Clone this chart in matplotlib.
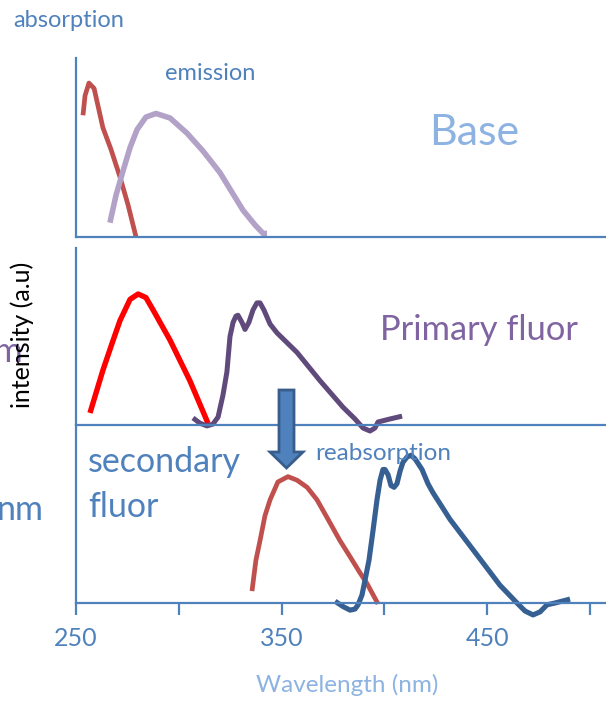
import numpy as np
import matplotlib
matplotlib.use("Agg")
import matplotlib.pyplot as plt
import matplotlib.patches as mpatches

plt.rcParams['font.family'] = ['Lato', 'DejaVu Sans']

# --- data (wavelength nm, relative intensity; 0 = panel baseline, 1 = panel top)
base_abs_x = [253.4, 254.4, 256.3, 258.8, 263.1, 267.0, 271.4, 275.3, 279.2]
base_abs_y = [0.68, 0.79, 0.86, 0.83, 0.61, 0.49, 0.335, 0.18, 0.0]

base_em_x = [266.5, 269.5, 272.9, 276.3, 279.7, 284.0, 288.9, 295.7, 304.0,
             311.8, 320.0, 331.2, 337.1, 341.0, 342.9]
base_em_y = [0.08, 0.235, 0.37, 0.50, 0.60, 0.67, 0.69, 0.665, 0.58,
             0.48, 0.36, 0.15, 0.067, 0.02, 0.02]

prim_abs_x = [256.8, 263.1, 267.5, 271.4, 276.3, 280.2, 284.0, 287.5, 295.7, 305.4, 314.2]
prim_abs_y = [0.068, 0.31, 0.46, 0.59, 0.71, 0.74, 0.72, 0.65, 0.48, 0.25, 0.01]

prim_em_x = [306.9, 310.3, 313.7, 316.6, 319.1, 321.5, 323.4, 324.9, 326.4, 327.8,
             328.8, 330.7, 332.2, 334.1, 336.1, 338.0, 339.5, 341.4, 344.4, 347.8,
             357.5, 368.7, 379.9, 385.7, 389.6, 393.0, 395.4, 396.9, 402.7, 408.6]
prim_em_y = [0.04, 0.01, -0.005, 0.005, 0.045, 0.17, 0.30, 0.50, 0.58, 0.615,
             0.62, 0.58, 0.54, 0.58, 0.65, 0.69, 0.69, 0.65, 0.57, 0.52,
             0.41, 0.25, 0.10, 0.034, -0.017, -0.034, -0.017, 0.017, 0.034, 0.05]

sec_abs_x = [335.6, 337.5, 339.5, 341.9, 344.4, 348.2, 353.1, 357.5, 362.4, 367.2,
             372.1, 378.4, 383.3, 388.1, 391.5, 396.9]
sec_abs_y = [0.067, 0.24, 0.35, 0.49, 0.58, 0.68, 0.71, 0.69, 0.65, 0.58,
             0.48, 0.35, 0.26, 0.17, 0.11, -0.005]

sec_em_x = [376.0, 379.9, 383.3, 385.7, 387.2, 389.1, 390.6, 392.5, 394.5, 396.4,
            397.9, 399.3, 400.3, 401.8, 403.2, 404.7, 406.1, 407.6, 409.0, 411.0,
            412.9, 414.9, 418.3, 421.2, 423.6, 431.9, 448.0, 456.2, 464.5, 468.4,
            472.3, 475.7, 479.1, 483.0, 490.3]
sec_em_y = [0.01, -0.02, -0.04, -0.034, -0.01, 0.045, 0.13, 0.24, 0.41, 0.58,
            0.69, 0.75, 0.75, 0.72, 0.66, 0.65, 0.67, 0.74, 0.79, 0.82,
            0.83, 0.81, 0.75, 0.67, 0.62, 0.47, 0.225, 0.10, 0.0, -0.045,
            -0.067, -0.05, -0.01, 0.0, 0.022]

tick_values = [250, 300, 350, 400, 450, 500]
tick_labels = ['250', '', '350', '', '450', '']

# --- figure
W, H = 606, 703
fig = plt.figure(figsize=(W / 100, H / 100), dpi=100)

axis_blue = '#4F81BD'
xmin, xmax = 250, 250 + 530 / 2.056


def px(x, y):
    return x / W, 1 - y / H


def panel(top, bottom):
    ax = fig.add_axes([76 / W, 1 - bottom / H, 530 / W, (bottom - top) / H])
    ax.set_facecolor('none')
    ax.set_xlim(xmin, xmax)
    ax.set_ylim(0, 1)
    for s in ['top', 'right']:
        ax.spines[s].set_visible(False)
    for s in ['left', 'bottom']:
        ax.spines[s].set_color(axis_blue)
        ax.spines[s].set_linewidth(1.6)
    ax.set_yticks([])
    ax.set_xticks([])
    return ax


ax_top = panel(58, 237)
ax_mid = panel(248, 425)
ax_bot = panel(425, 603)

line_kw = dict(clip_on=False, solid_capstyle='butt', solid_joinstyle='round')
ax_top.plot(base_abs_x, base_abs_y, color='#C0504D', lw=3.4, **line_kw)
ax_top.plot(base_em_x, base_em_y, color='#B3A2C7', lw=4.0, **line_kw)

ax_mid.plot(prim_abs_x, prim_abs_y, color='#FF0000', lw=3.9, **line_kw)
ax_mid.plot(prim_em_x, prim_em_y, color='#604A7B', lw=3.6, **line_kw)

ax_bot.plot(sec_abs_x, sec_abs_y, color='#C0504D', lw=3.4, **line_kw)
ax_bot.plot(sec_em_x, sec_em_y, color='#376092', lw=3.7, **line_kw)

ax_bot.set_xticks(tick_values)
ax_bot.set_xticklabels(tick_labels)
ax_bot.tick_params(axis='x', direction='out', length=8.5, width=1.6,
                   color=axis_blue, labelcolor=axis_blue, labelsize=18, pad=9)
for lbl in ax_bot.get_xticklabels():
    lbl.set_x(lbl.get_position()[0])

# arrow between primary and secondary panels
arrow = mpatches.FancyArrow(2.865, (H - 390) / 100, 0, -0.78, width=0.15,
                            head_width=0.33, head_length=0.16,
                            length_includes_head=True,
                            facecolor='#4F81BD', edgecolor='#385D8A', lw=2,
                            transform=fig.dpi_scale_trans)
fig.patches.append(arrow)

# labels
fig.text(*px(13, 27), 'absorption', color=axis_blue, fontsize=17, va='baseline')
fig.text(*px(165, 80), 'emission', color=axis_blue, fontsize=17, va='baseline')
fig.text(*px(429, 145), 'Base', color='#8DB3E2', fontsize=31, va='baseline')
fig.text(*px(380, 340), 'Primary fluor', color='#8064A2', fontsize=24.8, va='baseline')
fig.text(*px(22, 362), 'm', color='#8064A2', fontsize=25, va='baseline', ha='right')
fig.text(*px(22, 335), 'intensity (a.u)', color='black', fontsize=18,
         rotation=90, va='center', ha='center')
fig.text(*px(88, 472), 'secondary', color=axis_blue, fontsize=24.5, va='baseline')
fig.text(*px(88, 517), 'fluor', color=axis_blue, fontsize=24.5, va='baseline')
fig.text(*px(44, 520), 'nm', color=axis_blue, fontsize=24.5, va='baseline', ha='right')
fig.text(*px(315, 460), 'reabsorption', color=axis_blue, fontsize=17.5, va='baseline')
fig.text(*px(347, 692), 'Wavelength (nm)', color='#8DB3E2', fontsize=17.5,
         va='baseline', ha='center')

fig.savefig('out.png', dpi=100)
